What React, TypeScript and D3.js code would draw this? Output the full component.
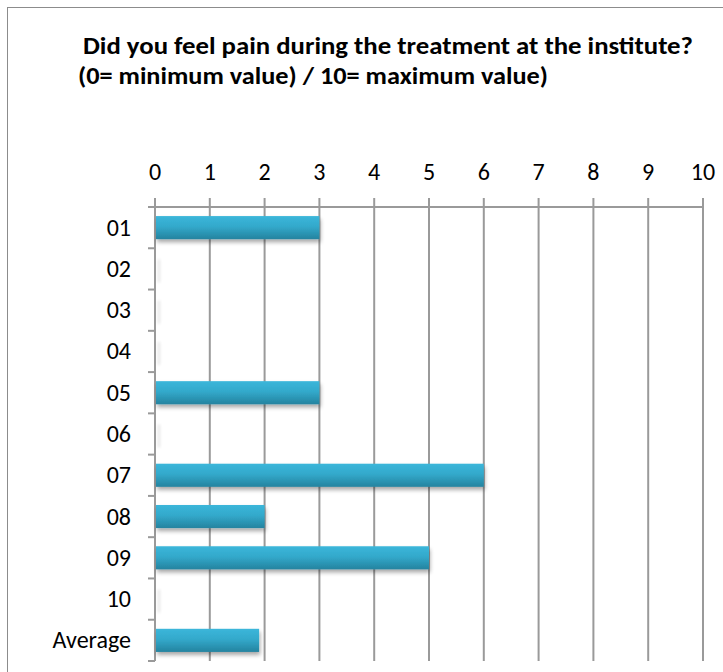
import React from "react";
import * as d3 from "d3";

const categories = ["01", "02", "03", "04", "05", "06", "07", "08", "09", "10", "Average"];
const painScores = [3, 0, 0, 0, 3, 0, 6, 2, 5, 0, 1.9];
const xTicks = [0, 1, 2, 3, 4, 5, 6, 7, 8, 9, 10];
const titleLines = [
  "Did you feel pain during the treatment at the institute?",
  "(0= minimum value) / 10= maximum value)",
];

const W = 723;
const H = 672;
const plot = { left: 155, right: 703, top: 207, bottom: 661 };
const FONT = "Carlito, Lato, 'Open Sans', 'Liberation Sans', sans-serif";

export default function App() {
  const x = d3.scaleLinear().domain([0, 10]).range([plot.left, plot.right]);
  const y = d3
    .scaleBand<string>()
    .domain(categories)
    .range([plot.top, plot.bottom])
    .paddingInner(0.44)
    .paddingOuter(0.22);
  const step = y.step();
  const gridColor = "#9a9a9a";

  return (
    <svg
      width={W}
      height={H}
      style={{ position: "absolute", left: 0, top: 0, background: "#fff" }}
    >
      <defs>
        <linearGradient id="barFill" x1="0" y1="0" x2="0" y2="1">
          <stop offset="0" stopColor="#3bb6da" />
          <stop offset="0.45" stopColor="#33a9cb" />
          <stop offset="1" stopColor="#24839f" />
        </linearGradient>
        <filter id="barShadow" x="-5%" y="-30%" width="115%" height="190%">
          <feGaussianBlur in="SourceAlpha" stdDeviation="2.2" />
          <feOffset dx="1" dy="3" result="blur" />
          <feComponentTransfer>
            <feFuncA type="linear" slope="0.35" />
          </feComponentTransfer>
          <feMerge>
            <feMergeNode />
            <feMergeNode in="SourceGraphic" />
          </feMerge>
        </filter>
        <filter id="zeroShadow" x="-400%" y="-30%" width="900%" height="190%">
          <feGaussianBlur in="SourceAlpha" stdDeviation="1.5" />
          <feOffset dx="2" dy="2" />
          <feComponentTransfer>
            <feFuncA type="linear" slope="0.12" />
          </feComponentTransfer>
        </filter>
      </defs>

      {/* chart area border */}
      <rect x={7.5} y={7.5} width={W + 10} height={H + 10} fill="none" stroke="#8c8c8c" strokeWidth={1} />

      {/* title */}
      <text
        x={83}
        y={54}
        fontFamily={FONT}
        fontWeight="bold"
        fontSize={24}
        fill="#000"
        textLength={610}
        lengthAdjust="spacingAndGlyphs"
      >
        {titleLines[0]}
      </text>
      <text
        x={78}
        y={84}
        fontFamily={FONT}
        fontWeight="bold"
        fontSize={24}
        fill="#000"
        textLength={470}
        lengthAdjust="spacingAndGlyphs"
      >
        {titleLines[1]}
      </text>

      {/* vertical gridlines */}
      {xTicks.map((t) => (
        <line
          key={"g" + t}
          x1={x(t)}
          x2={x(t)}
          y1={plot.top - 9}
          y2={plot.bottom}
          stroke={gridColor}
          strokeWidth={2}
        />
      ))}

      {/* top value axis */}
      <line x1={plot.left} x2={plot.right} y1={plot.top} y2={plot.top} stroke={gridColor} strokeWidth={2} />
      {xTicks.map((t) => (
        <text
          key={"t" + t}
          x={x(t)}
          y={180}
          textAnchor="middle"
          fontFamily={FONT}
          fontSize={24}
          fill="#000"
        >
          {t}
        </text>
      ))}

      {/* left category axis */}
      <line x1={plot.left} x2={plot.left} y1={plot.top} y2={plot.bottom} stroke={gridColor} strokeWidth={2} />
      {d3.range(categories.length + 1).map((i) => {
        const yy = plot.top + i * step;
        return (
          <line key={"c" + i} x1={plot.left - 7} x2={plot.left} y1={yy} y2={yy} stroke={gridColor} strokeWidth={2} />
        );
      })}

      {/* bars; zero values leave only a faint sliver */}
      {categories.map((c, i) => {
        const v = painScores[i];
        const bx = x(0) + 1;
        if (v <= 0) {
          return (
            <rect
              key={"b" + c}
              x={bx}
              y={y(c)}
              width={2}
              height={y.bandwidth()}
              fill="#fff"
              filter="url(#zeroShadow)"
            />
          );
        }
        return (
          <rect
            key={"b" + c}
            x={bx}
            y={y(c)}
            width={x(v) - x(0) - 1}
            height={y.bandwidth()}
            fill="url(#barFill)"
            filter="url(#barShadow)"
          />
        );
      })}

      {/* category labels */}
      {categories.map((c) => (
        <text
          key={"l" + c}
          x={131}
          y={(y(c) as number) + y.bandwidth() / 2 + 8}
          textAnchor="end"
          fontFamily={FONT}
          fontSize={24}
          fill="#000"
        >
          {c}
        </text>
      ))}
    </svg>
  );
}
